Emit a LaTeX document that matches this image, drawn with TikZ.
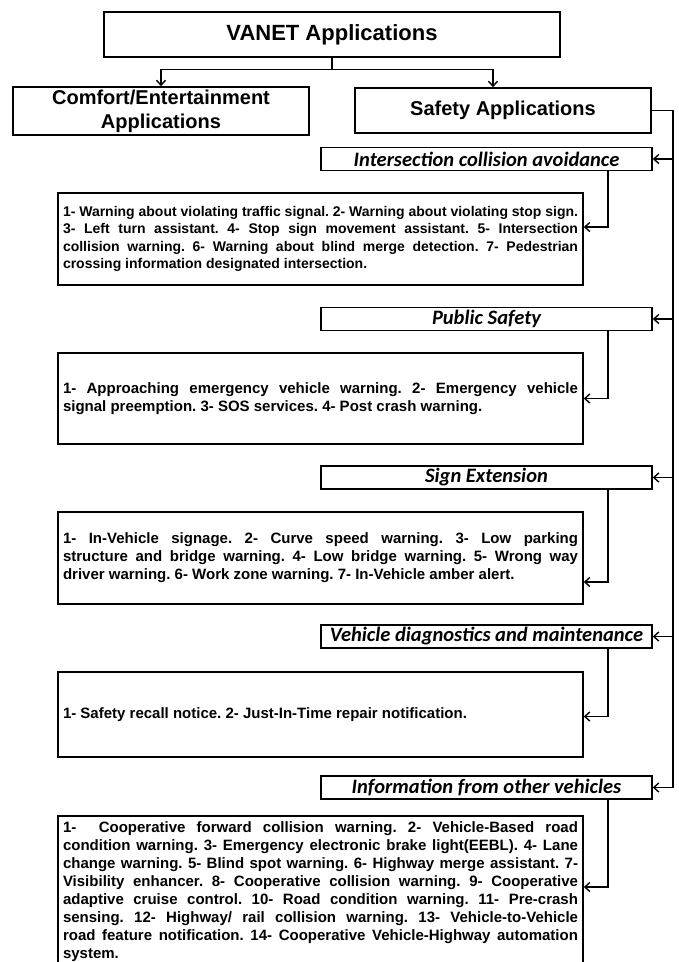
\documentclass[tikz,border=0pt]{standalone}
\usepackage{fontspec}
\setmainfont{Liberation Sans}
\newfontfamily\headfont{Carlito}
\usetikzlibrary{arrows.meta}
\hyphenpenalty=10000
\exhyphenpenalty=10000
\frenchspacing

\begin{document}
\begin{tikzpicture}[
    x=1pt, y=-1pt,
    >={Straight Barb[length=5pt,width=9pt]},
    every node/.style={draw, line width=1.5pt, inner sep=0pt},
    topbox/.style={minimum width=296pt, minimum height=46pt, align=center, font=\fontsize{20}{24}\selectfont\bfseries},
    headbox/.style={minimum width=331pt, minimum height=23pt, font=\headfont\fontsize{20.5}{22}\selectfont\bfseries\itshape},
    itembox/.style={text width=515pt, inner xsep=5pt, align=justify, font=\fontsize{15}{18}\selectfont\bfseries},
    link/.style={draw, line width=1.4pt, ->}
]
\useasboundingbox (0,0) rectangle (679,962);

% top level
\node[topbox, minimum width=456pt, minimum height=45pt, font=\fontsize{22}{24}\selectfont\bfseries] (vanet) at (332,34.5) {VANET Applications};
\node[topbox, minimum height=48pt] (comfort) at (161,111) {Comfort/Entertainment\\Applications};
\node[topbox, minimum height=45pt] (safety) at (503,110.5) {Safety Applications};

\draw[line width=1.4pt] (vanet.south) -- ++(0,12) coordinate (split);
\draw[link] (split) -| (comfort.north);
\draw[link] (split) -| ([xshift=-10pt]safety.north);

% safety groups
\node[headbox] (ica) at (486.5,159) {Intersection collision avoidance};
\node[headbox] (ps)  at (486.5,319) {Public Safety};
\node[headbox] (se)  at (486.5,477.5) {Sign Extension};
\node[headbox] (vd)  at (486.5,636.5) {Vehicle diagnostics and maintenance};
\node[headbox] (ifo) at (486.5,787.5) {Information from other vehicles};

\node[itembox, minimum height=92pt, font=\fontsize{14}{17.5}\selectfont\bfseries] (d1) at (320.5,239) {1- Warning about violating traffic signal. 2- Warning about violating stop sign.\linebreak
3- Left turn assistant. 4- Stop sign movement assistant. 5- Intersection\linebreak
collision warning. 6- Warning about blind merge detection. 7- Pedestrian\linebreak
crossing information designated intersection.};
\node[itembox, minimum height=91pt] (d2) at (320.5,398.5) {1- Approaching emergency vehicle warning. 2- Emergency vehicle\linebreak
signal preemption. 3- SOS services. 4- Post crash warning.};
\node[itembox, minimum height=92pt] (d3) at (320.5,558) {1- In-Vehicle signage. 2- Curve speed warning. 3- Low parking\linebreak
structure and bridge warning. 4- Low bridge warning. 5- Wrong way\linebreak
driver warning. 6- Work zone warning. 7- In-Vehicle amber alert.};
\node[itembox, minimum height=85pt] (d4) at (320.5,714.5) {1- Safety recall notice. 2- Just-In-Time repair notification.};
\node[itembox, inner ysep=6pt, anchor=north] (d5) at (320.5,815) {1-~~Cooperative forward collision warning. 2- Vehicle-Based road\linebreak
condition warning. 3- Emergency electronic brake light(EEBL). 4- Lane\linebreak
change warning. 5- Blind spot warning. 6- Highway merge assistant. 7-\linebreak
Visibility enhancer. 8- Cooperative collision warning. 9- Cooperative\linebreak
adaptive cruise control. 10- Road condition warning. 11- Pre-crash\linebreak
sensing. 12- Highway/ rail collision warning. 13- Vehicle-to-Vehicle\linebreak
road feature notification. 14- Cooperative Vehicle-Highway automation\linebreak
system.};

% bus on the right
\coordinate (bus) at (673,110.5);
\draw[link] (safety.east) -- (bus) |- (ifo.east);
\foreach \h in {ica,ps,se,vd}
    \draw[link] (\h.east -| bus) -- (\h.east);

% header to items
\draw[link] ([xshift=121.5pt]ica.south) |- ([yshift=12pt]d1.east);
\draw[link] ([xshift=121.5pt]ps.south) |- (d2.east);
\draw[link] ([xshift=121.5pt]se.south) |- ([yshift=-24pt]d3.east);
\draw[link] ([xshift=121.5pt]vd.south) |- ([yshift=-2pt]d4.east);
\draw[link] ([xshift=121.5pt]ifo.south) |- (d5.east |- 0,887);
\end{tikzpicture}
\end{document}
